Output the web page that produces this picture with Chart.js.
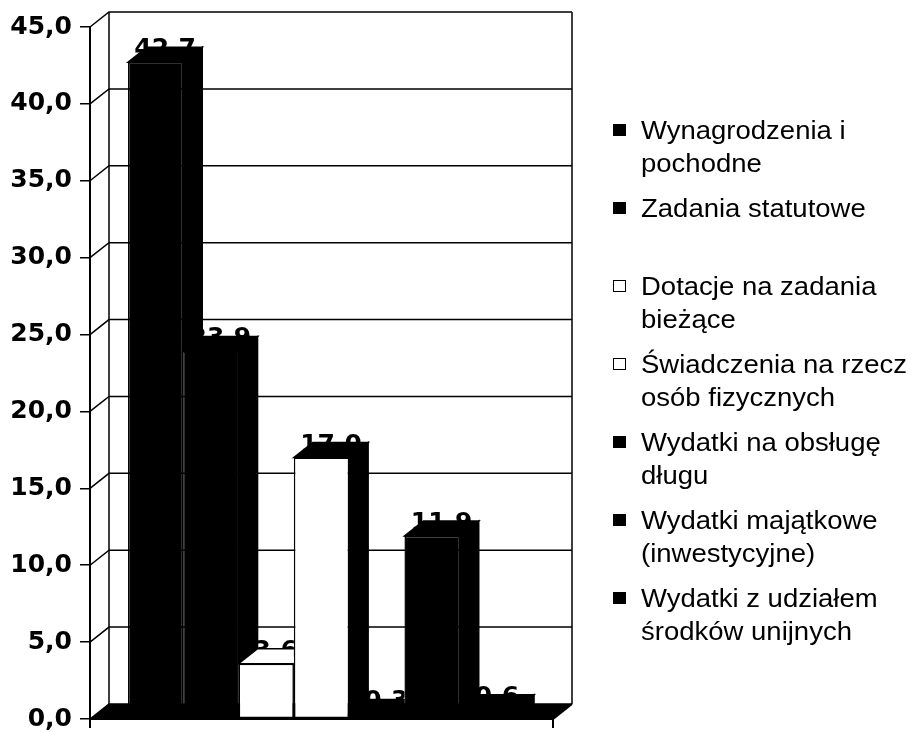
<!DOCTYPE html>
<html>
<head>
<meta charset="utf-8">
<script src="https://cdn.jsdelivr.net/npm/chart.js@4.4.1/dist/chart.umd.min.js"></script>
<style>
html,body{margin:0;padding:0;background:#fff;}
#wrap{position:relative;width:915px;height:732px;overflow:hidden;background:#fff;}
#c{position:absolute;left:0;top:0;}
#legend{position:absolute;left:613px;top:114px;font-family:"Liberation Sans",Arial,sans-serif;font-size:25px;color:#000;}
.item{position:relative;height:65px;margin-bottom:13px;}
.sw{position:absolute;left:0;top:10px;width:13px;height:12px;box-sizing:border-box;border:1px solid #000;}
.txt{position:absolute;left:28px;top:0;line-height:32.5px;white-space:nowrap;transform:scaleX(1.1);transform-origin:0 0;}
</style>
</head>
<body>
<div id="wrap">
<canvas id="c" width="915" height="732"></canvas>
<div id="legend"></div>
</div>
<script>
// ---- data ----
const categories = [''];
const seriesNames = [
  'Wynagrodzenia i pochodne',
  'Zadania statutowe',
  'Dotacje na zadania bieżące',
  'Świadczenia na rzecz osób fizycznych',
  'Wydatki na obsługę długu',
  'Wydatki majątkowe (inwestycyjne)',
  'Wydatki z udziałem środków unijnych'
];
const legendLines = [
  ['Wynagrodzenia i', 'pochodne'],
  ['Zadania statutowe'],
  ['Dotacje na zadania', 'bieżące'],
  ['Świadczenia na rzecz', 'osób fizycznych'],
  ['Wydatki na obsługę', 'długu'],
  ['Wydatki majątkowe', '(inwestycyjne)'],
  ['Wydatki z udziałem', 'środków unijnych']
];
const values = [42.7, 23.9, 3.6, 17.0, 0.3, 11.9, 0.6];
const yTicks = [0, 5, 10, 15, 20, 25, 30, 35, 40, 45];

// ---- styles ----
const frontColors = ['#000', '#000', '#fff', '#fff', '#000', '#000', '#000'];
const topColors   = ['#000', '#000', '#fff', '#000', '#000', '#000', '#000'];
const sideColors  = ['#000', '#000', '#000', '#000', '#000', '#000', '#000'];
const DX = 19, DY = -15;
const fmt = v => Number(v).toFixed(1).replace('.', ',');
const boldFont = 'bold 25px "DejaVu Sans", sans-serif';

// ---- legend (HTML) ----
const lg = document.getElementById('legend');
legendLines.forEach((lines, i) => {
  const it = document.createElement('div'); it.className = 'item';
  const sw = document.createElement('div'); sw.className = 'sw';
  sw.style.background = frontColors[i];
  const tx = document.createElement('div'); tx.className = 'txt';
  tx.innerHTML = lines.map(l => '<div>' + l + '</div>').join('');
  it.appendChild(sw); it.appendChild(tx); lg.appendChild(it);
});

const threeD = {
  id: 'threeD',
  beforeDatasetsDraw(chart) {
    const ctx = chart.ctx, ca = chart.chartArea, ys = chart.scales.y;
    const L = ca.left, R = ca.right, B = ys.getPixelForValue(0);
    ctx.save();
    // floor
    ctx.fillStyle = '#000';
    ctx.beginPath();
    ctx.moveTo(L, B); ctx.lineTo(R, B); ctx.lineTo(R + DX, B + DY); ctx.lineTo(L + DX, B + DY);
    ctx.closePath(); ctx.fill();
    // back wall grid lines + connectors
    ctx.strokeStyle = '#000'; ctx.lineWidth = 1.5;
    yTicks.forEach(v => {
      const yf = ys.getPixelForValue(v);
      ctx.beginPath();
      ctx.moveTo(L, yf); ctx.lineTo(L + DX, yf + DY); ctx.lineTo(R + DX, yf + DY);
      ctx.stroke();
    });
    const yTop = ys.getPixelForValue(ys.max);
    ctx.beginPath();
    ctx.moveTo(L + DX, yTop + DY); ctx.lineTo(L + DX, B + DY);
    ctx.moveTo(R + DX, yTop + DY); ctx.lineTo(R + DX, B + DY);
    ctx.stroke();
    // floor front edge and its diagonal, category ticks
    ctx.lineWidth = 2;
    ctx.beginPath();
    ctx.moveTo(L, B); ctx.lineTo(R, B); ctx.lineTo(R + DX, B + DY);
    ctx.moveTo(L, B); ctx.lineTo(L, B + 9);
    ctx.moveTo(R, B); ctx.lineTo(R, B + 9);
    ctx.stroke();
    ctx.restore();
  },
  afterDatasetsDraw(chart) {
    const ctx = chart.ctx;
    const n = chart.data.datasets.length;
    const bars = [];
    for (let i = 0; i < n; i++) {
      const el = chart.getDatasetMeta(i).data[0];
      const p = el.getProps(['x', 'y', 'base', 'width'], true);
      bars.push({ l: p.x - p.width / 2, r: p.x + p.width / 2, t: p.y, b: p.base, x: p.x });
    }
    for (let i = 0; i < n; i++) {
      const bb = bars[i];
      ctx.save();
      ctx.beginPath();
      ctx.rect(0, 0, chart.width, chart.height);
      for (let j = i + 1; j < n; j++) {
        const o = bars[j];
        ctx.rect(o.l, o.t, o.r - o.l, o.b - o.t);
      }
      ctx.clip('evenodd');
      // value label
      ctx.fillStyle = '#000';
      ctx.font = boldFont;
      ctx.textAlign = 'center';
      ctx.textBaseline = 'alphabetic';
      ctx.fillText(fmt(chart.data.datasets[i].data[0]), bb.x + DX / 2, bb.t - 6);
      // side face
      ctx.lineWidth = 1.5;
      ctx.strokeStyle = '#000';
      ctx.fillStyle = sideColors[i];
      ctx.beginPath();
      ctx.moveTo(bb.r, bb.t); ctx.lineTo(bb.r + DX, bb.t + DY);
      ctx.lineTo(bb.r + DX, bb.b + DY); ctx.lineTo(bb.r, bb.b);
      ctx.closePath(); ctx.fill(); ctx.stroke();
      // top face
      ctx.fillStyle = topColors[i];
      ctx.beginPath();
      ctx.moveTo(bb.l, bb.t); ctx.lineTo(bb.r, bb.t);
      ctx.lineTo(bb.r + DX, bb.t + DY); ctx.lineTo(bb.l + DX, bb.t + DY);
      ctx.closePath(); ctx.fill(); ctx.stroke();
      ctx.restore();
    }
  }
};

new Chart(document.getElementById('c'), {
  type: 'bar',
  data: {
    labels: categories,
    datasets: seriesNames.map((name, i) => ({
      label: name,
      data: [values[i]],
      backgroundColor: frontColors[i],
      borderColor: '#000',
      borderWidth: 1.5,
      borderSkipped: false
    }))
  },
  options: {
    responsive: false,
    animation: false,
    devicePixelRatio: 1,
    layout: { padding: { top: 27, bottom: 13, left: 0, right: 362 } },
    datasets: { bar: { categoryPercentage: 0.836, barPercentage: 1 } },
    plugins: { legend: { display: false }, tooltip: { enabled: false } },
    scales: {
      x: { display: false, offset: true },
      y: {
        min: 0, max: 45,
        afterBuildTicks: s => { s.ticks = yTicks.map(v => ({ value: v })); },
        afterFit: s => { s.width = 90; s.paddingTop = 0; s.paddingBottom = 0; },
        ticks: {
          callback: v => fmt(v),
          color: '#000',
          padding: 8,
          font: { family: 'DejaVu Sans', weight: 'bold', size: 25, lineHeight: 1 }
        },
        grid: { drawOnChartArea: false, drawTicks: true, tickLength: 10, color: '#000', lineWidth: 1.5 },
        border: { display: true, color: '#000', width: 2 }
      }
    }
  },
  plugins: [threeD]
});
</script>
</body>
</html>
